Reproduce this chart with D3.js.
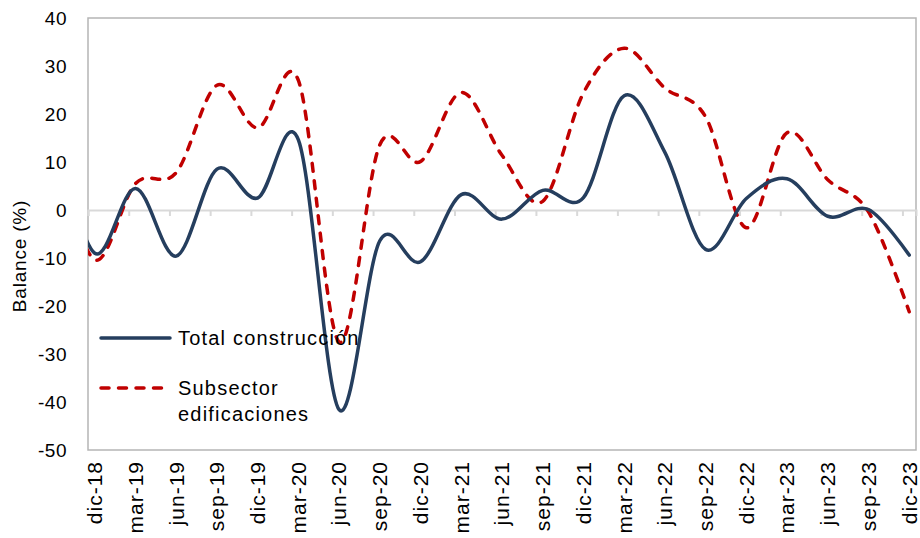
<!DOCTYPE html>
<html>
<head>
<meta charset="utf-8">
<script src="https://cdnjs.cloudflare.com/ajax/libs/d3/7.8.5/d3.min.js"></script>
<style>
  body { margin: 0; background: #fff; }
  svg text { font-family: "Liberation Sans", Arial, sans-serif; fill: #000; }
</style>
</head>
<body>
<div id="chart"></div>
<script>
// quarterly periods; sep-18 lies left of the axis start and is clipped
var periodos = ["sep-18", "dic-18", "mar-19", "jun-19", "sep-19", "dic-19", "mar-20", "jun-20", "sep-20",
  "dic-20", "mar-21", "jun-21", "sep-21", "dic-21", "mar-22", "jun-22", "sep-22", "dic-22",
  "mar-23", "jun-23", "sep-23", "dic-23"];
var totalConstruccion = [16, -9, 4.5, -9.6, 8.5, 2.5, 14.6, -41.6, -6.4, -10.8, 3.2, -1.9, 4.1, 2.6,
  23.8, 12, -8.2, 2.4, 6.5, -1.3, 0.1, -9.4];
var subsectorEdif = [13, -10.4, 5.5, 7.8, 26, 17.1, 27, -27.5, 13.6, 10.1, 24.5, 11.4, 1.8, 24.4,
  33.7, 25.4, 19.4, -3.7, 16.1, 6.3, -0.4, -21.2];
var yTicks = [-50, -40, -30, -20, -10, 0, 10, 20, 30, 40];

var W = 920, H = 538;
var pLeft = 88, pRight = 916, pTop = 18, pBottom = 450;
var mesesInicio = periodos.indexOf("dic-18");

// month slots: slot 0 = dic-18 ... slot 60 = dic-23
var x = d3.scaleLinear().domain([0, 61]).range([pLeft, pRight]);
var y = d3.scaleLinear().domain([-50, 40]).range([pBottom, pTop]);
var xPeriodo = function(i) { return x((i - mesesInicio) * 3 + 0.5); };

var svg = d3.select("#chart").append("svg").attr("width", W).attr("height", H);

svg.append("defs").append("clipPath").attr("id", "plot")
  .append("rect").attr("x", pLeft).attr("y", pTop).attr("width", pRight - pLeft).attr("height", pBottom - pTop);

// plot border
svg.append("rect").attr("x", pLeft).attr("y", pTop).attr("width", pRight - pLeft).attr("height", pBottom - pTop)
  .attr("fill", "none").attr("stroke", "#b5b5b5").attr("stroke-width", 1.5);

// y axis labels (plain hyphen, as in the original)
var yAxis = svg.append("g").attr("transform", "translate(" + 67 + ",0)")
  .call(d3.axisLeft(y).tickValues(yTicks).tickSize(0).tickPadding(0)
    .tickFormat(function(d) { return String(d); }));
yAxis.select(".domain").remove();
yAxis.selectAll("text").style("font-size", "19px").style("letter-spacing", "0.5px").attr("fill", "#000");

// zero line with tick marks every quarter
var boundaries = d3.range(0, 61, 3);
var xAxis = svg.append("g").attr("transform", "translate(0," + y(0) + ")")
  .call(d3.axisBottom(x).tickValues(boundaries).tickSize(6).tickFormat(""));
xAxis.select(".domain").attr("stroke", "#d9d9d9").attr("stroke-width", 2);
xAxis.selectAll(".tick line").attr("stroke", "#d9d9d9").attr("stroke-width", 2);

// x labels (rotated)
var etiquetas = periodos.slice(mesesInicio);
svg.append("g").selectAll("text")
  .data(etiquetas)
  .enter()
  .append("text")
    .attr("transform", function(d, i) {
      return "translate(" + xPeriodo(i + mesesInicio) + "," + 461 + ") rotate(-90)";
    })
    .attr("text-anchor", "end")
    .attr("dy", "0.35em")
    .style("font-size", "21px")
    .style("letter-spacing", "1px")
    .text(function(d) { return d; });

// y axis title
svg.append("text")
  .attr("transform", "translate(19,256) rotate(-90)")
  .attr("text-anchor", "middle")
  .attr("dy", "0.35em")
  .style("font-size", "19px")
  .style("letter-spacing", "0.8px")
  .text("Balance (%)");

var linea = d3.line()
  .x(function(d, i) { return xPeriodo(i); })
  .y(function(d) { return y(d); })
  .curve(d3.curveCatmullRom.alpha(0));

var lines = svg.append("g").attr("clip-path", "url(#plot)");

lines.append("path")
  .datum(subsectorEdif)
  .attr("d", linea)
  .attr("fill", "none")
  .attr("stroke", "#c00000")
  .attr("stroke-width", 3.5)
  .attr("stroke-linecap", "round")
  .attr("stroke-dasharray", "8,9.5");

lines.append("path")
  .datum(totalConstruccion)
  .attr("d", linea)
  .attr("fill", "none")
  .attr("stroke", "#253e5e")
  .attr("stroke-width", 3.5)
  .attr("stroke-linecap", "round");

// legend
var legend = svg.append("g");
legend.append("line").attr("x1", 101).attr("x2", 170).attr("y1", 338).attr("y2", 338)
  .attr("stroke", "#253e5e").attr("stroke-width", 3.5).attr("stroke-linecap", "round");
legend.append("text").attr("x", 178).attr("y", 345).style("font-size", "20px")
  .style("letter-spacing", "1.2px").text("Total construcción");

legend.append("line").attr("x1", 101).attr("x2", 170).attr("y1", 388).attr("y2", 388)
  .attr("stroke", "#c00000").attr("stroke-width", 3.5).attr("stroke-linecap", "round")
  .attr("stroke-dasharray", "8,9.5");
legend.append("text").attr("x", 178).attr("y", 395).style("font-size", "20px")
  .style("letter-spacing", "1.2px").text("Subsector");
legend.append("text").attr("x", 178).attr("y", 421).style("font-size", "20px")
  .style("letter-spacing", "1.2px").text("edificaciones");
</script>
</body>
</html>
